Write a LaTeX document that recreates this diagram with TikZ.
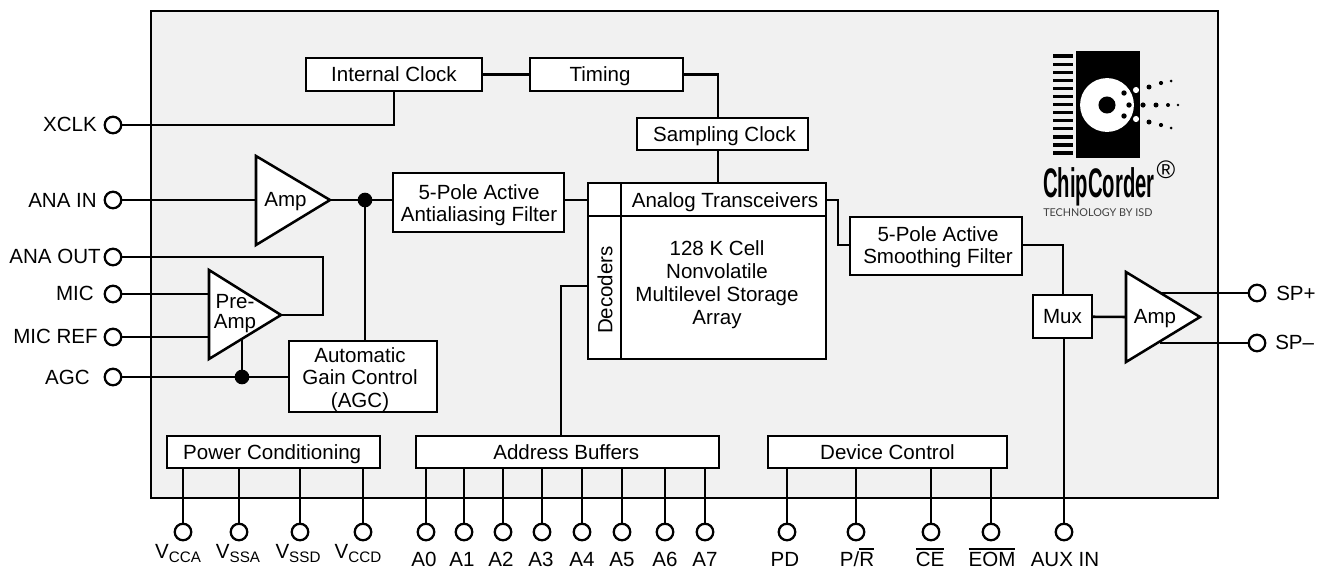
\documentclass[tikz,border=0pt]{standalone}
\usepackage{fontspec}
\setmainfont{Liberation Sans}
\newfontfamily\logofont{Lato}
\definecolor{panelc}{HTML}{F1F1F1}
\newcommand{\ovl}[1]{\vbox{\hrule height 1pt\kern 1.6pt\hbox{#1}}}
\newcommand{\Vsub}[1]{V\raisebox{-3pt}{\fontsize{11.4pt}{12pt}\selectfont #1}}
\tikzset{
  x=0.75pt,y=-0.75pt,
  ln/.style={line width=1.9pt,line cap=butt,line join=miter},
  blk/.style={draw,fill=white,line width=1.9pt,inner sep=0pt,outer sep=0pt,align=center,
    font=\fontsize{15.4pt}{16.6pt}\selectfont},
  one/.style={text height=11pt,text depth=0pt},
  sz/.style 2 args={minimum width=#1*0.75pt,minimum height=#2*0.75pt},
  pinc/.style={circle,draw,fill=white,line width=1.7pt,minimum size=12.4pt,inner sep=0pt,outer sep=0pt},
  dotc/.style={circle,fill=black,minimum size=11pt,inner sep=0pt,outer sep=0pt},
  lab/.style={inner sep=0pt,font=\fontsize{15.4pt}{16.6pt}\selectfont},
  tri/.style={draw,fill=white,line width=1.9pt,line join=miter},
}
\begin{document}
\begin{tikzpicture}
\useasboundingbox (0,0) rectangle (1320,569);
\fill[white] (0,0) rectangle (1320,569);
\draw[fill=panelc,line width=1.9pt] (151,11) rectangle (1218,498);

% blocks
\node[blk,one,sz={176}{33}] (iclk) at (394,74.5) {Internal Clock};
\node[blk,sz={153}{33}] (timing) at (606.5,74.5) {};
\node[lab,one] (ttiming) at (600,74) {Timing};
\node[blk,one,sz={171}{32}] (sclk) at (722.5,134) {\hspace{3pt}Sampling Clock};
\node[blk,sz={171}{59}] (aafilt) at (478.5,202.5) {};
\node[lab,align=center] (taaf) at (479,205) {5-Pole Active\\Antialiasing Filter};
\node[blk,sz={238}{176},anchor=north west] (array) at (588,183) {};
\node[blk,sz={172}{58}] (smfilt) at (936,246) {};
\node[lab,align=center] (tsmf) at (938,247) {5-Pole Active\\Smoothing Filter};
\node[blk,one,sz={59}{43}] (mux) at (1062.5,316.5) {Mux};
\node[blk,sz={148}{71}] (agcb) at (363,376.5) {};
\node[lab,align=center,font=\fontsize{15.4pt}{16.9pt}\selectfont] (tagc) at (360,379.5) {Automatic\\Gain Control\\(AGC)};
\node[blk,one,sz={213}{32}] (power) at (273.5,452) {Power Conditioning\hspace{2pt}};
\node[blk,one,sz={303}{32}] (addr) at (567.5,452) {Address Buffers\hspace{2pt}};
\node[blk,one,sz={239}{32}] (devc) at (887.5,452) {Device Control};

% array subdivisions
\coordinate (div) at (621,183);
\coordinate (hdiv) at (588,216);
\draw[ln] (div) -- (div |- array.south);
\draw[ln] (hdiv) -- (hdiv -| array.east);
\node[lab,one] (xcvr) at (725,200) {Analog Transceivers};
\node[lab,align=center,font=\fontsize{15.4pt}{17.2pt}\selectfont] (cells) at (717,285) {128 K Cell\\Nonvolatile\\Multilevel Storage\\Array};
\node[lab,one,rotate=90] (dec) at (605,290) {Decoders};

% pins left/right
\node[pinc] (pxclk) at (113,125) {};
\node[pinc] (pain) at (113,200) {};
\node[pinc] (paout) at (113,257) {};
\node[pinc] (pmic) at (113,294) {};
\node[pinc] (pmref) at (113,337) {};
\node[pinc] (pagc) at (113,377) {};
\node[pinc] (pspp) at (1257,293) {};
\node[pinc] (pspm) at (1257,343) {};
\node[lab,one,anchor=east] (lxclk) at (97,124) {XCLK};
\node[lab,one,anchor=east] (lain) at (97,200) {ANA IN};
\node[lab,one,anchor=east] (laout) at (101,256) {ANA OUT};
\node[lab,one,anchor=east] (lmic) at (94,293) {MIC};
\node[lab,one,anchor=east] (lmref) at (98,336) {MIC REF};
\node[lab,one,anchor=east] (lagc) at (90,377) {AGC};
\node[lab,one,anchor=west] (lspp) at (1276,293) {SP+};
\node[lab,one,anchor=west] (lspm) at (1275,342) {SP–};

% bottom pins
\foreach \n/\x in {va/183,vb/239,vc/300,vd/363,a0/426,a1/464,a2/503,a3/542,a4/582,a5/622,a6/665,a7/705,pd/787,pr/856,ce/931,eo/991,ax/1064}
  \node[pinc] (p\n) at (\x,532) {};
\node[lab,anchor=base] (tva) at (178,558) {\Vsub{CCA}};
\node[lab,anchor=base] (tvb) at (238,558) {\Vsub{SSA}};
\node[lab,anchor=base] (tvc) at (298,558) {\Vsub{SSD}};
\node[lab,anchor=base] (tvd) at (358,558) {\Vsub{CCD}};
\foreach \n/\x/\t in {a0/424/A0,a1/462/A1,a2/501/A2,a3/541/A3,a4/582/A4,a5/622/A5,a6/665/A6,a7/705/A7,pd/785/PD,ax/1065/AUX IN}
  \node[lab,anchor=base] (t\n) at (\x,566) {\t};
\node[lab,anchor=base] (tpr) at (857,566) {P/\ovl{R}};
\node[lab,anchor=base] (tce) at (930,566) {\ovl{CE}};
\node[lab,anchor=base] (teo) at (992,566) {\ovl{EOM}};

% triangles
\coordinate (ampa) at (256,156); \coordinate (ampb) at (256,245); \coordinate (ampt) at (330,200);
\coordinate (ampi) at (256,200);
\coordinate (prea) at (209,270); \coordinate (preb) at (209,359); \coordinate (pret) at (281,315);
\coordinate (spka) at (1126,272); \coordinate (spkb) at (1126,362); \coordinate (spkt) at (1200,317);
\coordinate (spki) at (1126,317);
\coordinate (micin) at (209,294); \coordinate (mrefin) at (209,337);
\coordinate (spo1) at (1160,293); \coordinate (spo2) at (1160,343);
\coordinate (preo) at (242,339);
\coordinate (aoc) at (323,257);
\coordinate (aoc2) at (323,315);
\coordinate (tcor) at (718,74.5);
\coordinate (acor1) at (838,200);
\coordinate (acor2) at (838,245);
\coordinate (smcor) at (1063,245);
\coordinate (deccor) at (561,286);
\coordinate (decin) at (588,286);
\coordinate (xin) at (394,125);
\coordinate (aain) at (393,200);
\coordinate (aaout) at (564,200);
\coordinate (arin) at (588,200);
\coordinate (arout) at (826,200);
\coordinate (smin) at (850,245);
\coordinate (smout) at (1022,245);
\coordinate (sctop) at (718,150);
\coordinate (arrtop) at (718,183);
\node[dotc] (dotb) at (365,200) {};
\node[dotc] (dota) at (242,377) {};

% connectors
\draw[ln] (iclk) -- (timing);
\draw[ln] (timing.east) -- (tcor) -- (tcor |- sclk.north);
\draw[ln] (sctop) -- (arrtop);
\draw[ln] (pxclk) -- (xin) -- (xin |- iclk.south);
\draw[ln] (pain) -- (ampi);
\draw[ln] (ampt) -- (aain);
\draw[ln] (dotb) -- (dotb |- agcb.north);
\draw[ln] (aaout) -- (arin);
\draw[ln] (arout) -- (acor1) -- (acor2) -- (smin);
\draw[ln] (smout) -- (smcor) -- (smcor |- mux.north);
\draw[ln] (mux) -- (spki);
\draw[ln] (pax |- mux.south) -- (pax);
\draw[ln] (decin) -- (deccor) -- (deccor |- addr.north);
\draw[ln] (paout) -- (aoc) -- (aoc2) -- (pret);
\draw[ln] (pmic) -- (micin);
\draw[ln] (pmref) -- (mrefin);
\draw[ln] (pagc) -- (agcb.west |- pagc);
\foreach \n in {va,vb,vc,vd} \draw[ln] (p\n) -- (p\n |- power.south);
\foreach \n in {a0,a1,a2,a3,a4,a5,a6,a7} \draw[ln] (p\n) -- (p\n |- addr.south);
\foreach \n in {pd,pr,ce,eo} \draw[ln] (p\n) -- (p\n |- devc.south);

\draw[tri] (ampa) -- (ampb) -- (ampt) -- cycle;
\draw[tri] (prea) -- (preb) -- (pret) -- cycle;
\draw[tri] (spka) -- (spkb) -- (spkt) -- cycle;
\draw[ln] (spo1) -- (pspp);
\draw[ln] (spo2) -- (pspm);
\draw[ln] (preo) -- (dota);
\node[lab,one] (tamp) at (285.5,199) {Amp};
\node[lab,align=center,font=\fontsize{15.4pt}{15pt}\selectfont] (tpre) at (235,314) {Pre-\\Amp};
\node[lab,one] (tspk) at (1155,316) {Amp};

% logo
\fill[black] (1076,51) rectangle (1140,158);
\foreach \y in {56,64.1,72.2,80.3,88.4,96.5,104.5,112.6,120.7,128.8,136.9,145,153}
  \fill[black] (1053,\y-1.6) rectangle (1073,\y+1.6);
\fill[white] (1107,105) circle[radius=20.2pt];
\fill[black] (1107,105) circle[radius=6.4pt];
\foreach \x/\y/\r in {1124/93/2.7,1129/105/2.7,1124/116/2.7,1143/105/2.6,1156/105/2.5,1168/105/2,1178/105/1.4,1149/87/2.5,1161/83/2.1,1171/81/1.5,1149/122/2.5,1161/125/2.1,1171/128/1.5}
  \fill[black] (\x,\y) circle[radius=\r*0.75pt];
\fill[white] (1136,90) circle[radius=2.3pt];
\fill[white] (1136,119) circle[radius=2.3pt];
\node[inner sep=0pt,anchor=base west,xscale=0.49,font=\bfseries\fontsize{31pt}{31pt}\selectfont] (lchip) at (1043,197) {ChipCorder};
\node[inner sep=0pt,font=\fontsize{19pt}{19pt}\selectfont] (lreg) at (1166,170) {®};
\node[inner sep=0pt,anchor=base west,font=\logofont\fontsize{8.1pt}{9pt}\selectfont,text=black!75] (ltech) at (1043,216) {TECHNOLOGY BY ISD};
\end{tikzpicture}
\end{document}
